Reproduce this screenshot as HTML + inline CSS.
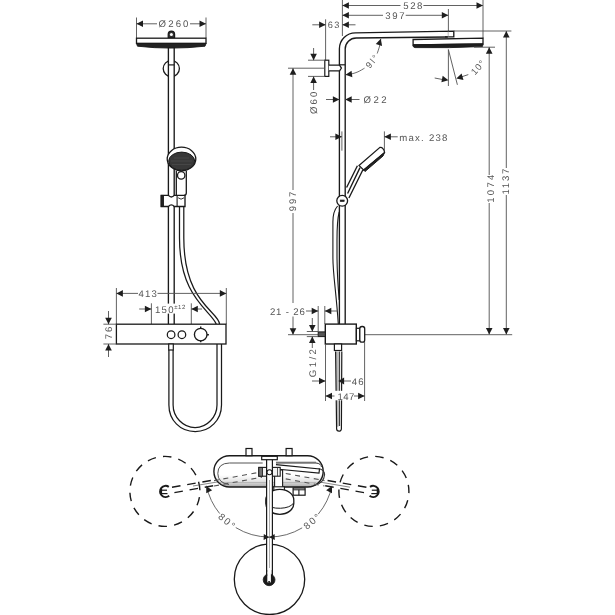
<!DOCTYPE html>
<html><head><meta charset="utf-8"><style>
html,body{margin:0;padding:0;background:#fff;width:615px;height:615px;overflow:hidden}
svg{display:block;will-change:transform}
text{font-family:"Liberation Sans",sans-serif;text-rendering:geometricPrecision}
</style></head><body>
<svg width="615" height="615" viewBox="0 0 615 615">
<rect width="615" height="615" fill="#fff"/>
<line x1="136.5" y1="17.5" x2="136.5" y2="38" stroke="#505050" stroke-width="0.9" />
<line x1="206" y1="17.5" x2="206" y2="38" stroke="#505050" stroke-width="0.9" />
<line x1="136.5" y1="23.8" x2="157" y2="23.8" stroke="#505050" stroke-width="0.9" />
<line x1="190" y1="23.8" x2="206" y2="23.8" stroke="#505050" stroke-width="0.9" />
<polygon points="136.50,23.80 143.00,20.50 143.00,27.10" fill="#1e1e1e"/>
<polygon points="206.00,23.80 199.50,27.10 199.50,20.50" fill="#1e1e1e"/>
<text x="158.6" y="27.2" font-size="9.6" text-anchor="start" letter-spacing="0" fill="#555" >Ø</text>
<text x="168.35" y="27.2" font-size="9.6" text-anchor="start" letter-spacing="2.04" fill="#555" >260</text>
<path d="M168.2,38 L168.2,34.3 A3.2,3.2 0 0 1 174.6,34.3 L174.6,38 Z" stroke="#1a1a1a" stroke-width="1.2" fill="#333" />
<circle cx="171.4" cy="34.6" r="1.5" stroke="#1a1a1a" stroke-width="0" fill="#fff" />
<rect x="136.5" y="38.2" width="69.5" height="5.2" rx="0" stroke="#1a1a1a" stroke-width="1.3" fill="#fff" />
<path d="M136.5,43.4 L206,43.4 L205,46.2 Q171,50 137.5,46.2 Z" stroke="#1a1a1a" stroke-width="0.9" fill="#222" />
<circle cx="171.3" cy="68.6" r="8.1" stroke="#1a1a1a" stroke-width="1.3" fill="none" />
<rect x="168.4" y="50" width="5.8" height="100" fill="#fff"/>
<line x1="168.4" y1="47" x2="168.4" y2="324.2" stroke="#1a1a1a" stroke-width="1.35" />
<line x1="174.2" y1="47" x2="174.2" y2="324.2" stroke="#1a1a1a" stroke-width="1.35" />
<line x1="168.4" y1="64.9" x2="174.2" y2="64.9" stroke="#1a1a1a" stroke-width="1.2" />
<ellipse cx="181.5" cy="159" rx="14.3" ry="11.8" fill="#fff" stroke="#1a1a1a" stroke-width="1.3"/>
<ellipse cx="181.7" cy="161.2" rx="13" ry="9.1" fill="#383838" stroke="#1a1a1a" stroke-width="1"/>
<path d="M171,161 L192,161 M172,164.5 L191,164.5 M174,158 L189,158" stroke="#555" stroke-width="0.5" fill="none" />
<line x1="176.3" y1="171" x2="176.3" y2="195.4" stroke="#1a1a1a" stroke-width="1.3" />
<path d="M186.3,171 L186.3,193 Q186.3,195.4 184,195.4" stroke="#1a1a1a" stroke-width="1.3" fill="none" />
<circle cx="181.2" cy="175.4" r="3.7" stroke="#1a1a1a" stroke-width="1.3" fill="#fff" />
<path d="M161.2,195.4 L168.4,195.4 Q171.3,198.6 174.3,195.4 L185,195.4 L185,206.5 L174.3,206.5 Q171.3,203.3 168.4,206.5 L161.2,206.5 Z" stroke="#1a1a1a" stroke-width="1.35" fill="#fff" />
<rect x="161.2" y="195.4" width="2.3" height="11.1" rx="0" stroke="#1a1a1a" stroke-width="0.9" fill="#222" />
<line x1="177.1" y1="195.4" x2="177.1" y2="206.5" stroke="#1a1a1a" stroke-width="1.1" />
<path d="M178.2,197.8 Q181,200.6 184,197.8" stroke="#1a1a1a" stroke-width="0.9" fill="none" />
<path d="M179.5,206.8 L179.5,238 C179.5,297.7 210.5,309.8 216.3,324.2" stroke="#1a1a1a" stroke-width="1.25" fill="none" />
<path d="M183.8,206.8 L183.8,238 C183.8,303.3 219.1,311.5 219.6,324.2" stroke="#1a1a1a" stroke-width="1.25" fill="none" />
<line x1="116.4" y1="288" x2="116.4" y2="324.2" stroke="#505050" stroke-width="0.9" />
<line x1="226.3" y1="288" x2="226.3" y2="324.2" stroke="#505050" stroke-width="0.9" />
<line x1="116.4" y1="293.4" x2="138" y2="293.4" stroke="#505050" stroke-width="0.9" />
<line x1="157.5" y1="293.4" x2="226.3" y2="293.4" stroke="#505050" stroke-width="0.9" />
<polygon points="116.40,293.40 122.90,290.10 122.90,296.70" fill="#1e1e1e"/>
<polygon points="226.30,293.40 219.80,296.70 219.80,290.10" fill="#1e1e1e"/>
<text x="138.4" y="296.8" font-size="9.6" text-anchor="start" letter-spacing="1.21" fill="#555" >413</text>
<line x1="151.4" y1="303.3" x2="151.4" y2="324.2" stroke="#505050" stroke-width="0.9" />
<line x1="191.3" y1="303.3" x2="191.3" y2="324.2" stroke="#505050" stroke-width="0.9" />
<line x1="139.2" y1="309" x2="151.4" y2="309" stroke="#505050" stroke-width="0.9" />
<polygon points="151.40,309.00 144.90,312.30 144.90,305.70" fill="#1e1e1e"/>
<line x1="191.3" y1="309" x2="202" y2="309" stroke="#505050" stroke-width="0.9" />
<polygon points="191.30,309.00 197.80,305.70 197.80,312.30" fill="#1e1e1e"/>
<rect x="155" y="303.6" width="31" height="10" fill="#fff"/>
<text x="155.05" y="312.5" font-size="9.6" text-anchor="start" letter-spacing="1.24" fill="#555" >150</text>
<text x="174.2" y="309.4" font-size="6" text-anchor="start" letter-spacing="0.6" fill="#555" >±12</text>
<rect x="116.4" y="324.2" width="109.6" height="19.8" rx="0" stroke="#1a1a1a" stroke-width="1.3" fill="#fff" />
<circle cx="171.1" cy="334.7" r="3.8" stroke="#1a1a1a" stroke-width="1.25" fill="none" />
<circle cx="181.9" cy="334.7" r="3.8" stroke="#1a1a1a" stroke-width="1.25" fill="none" />
<circle cx="200.7" cy="334.6" r="6.3" stroke="#1a1a1a" stroke-width="1.35" fill="none" />
<line x1="200.7" y1="326.6" x2="200.7" y2="328.4" stroke="#1a1a1a" stroke-width="1.4" />
<line x1="200.7" y1="340.4" x2="200.7" y2="342.2" stroke="#1a1a1a" stroke-width="1.4" />
<line x1="207" y1="334.7" x2="208.9" y2="334.7" stroke="#1a1a1a" stroke-width="1.4" />
<line x1="103.4" y1="324.2" x2="116.4" y2="324.2" stroke="#505050" stroke-width="0.9" />
<line x1="103.4" y1="344" x2="116.4" y2="344" stroke="#505050" stroke-width="0.9" />
<line x1="108.5" y1="311" x2="108.5" y2="324.2" stroke="#505050" stroke-width="0.9" />
<polygon points="108.50,324.20 105.20,317.70 111.80,317.70" fill="#1e1e1e"/>
<line x1="108.5" y1="344" x2="108.5" y2="357" stroke="#505050" stroke-width="0.9" />
<polygon points="108.50,344.00 111.80,350.50 105.20,350.50" fill="#1e1e1e"/>
<text x="112.2" y="339.2" font-size="9.6" text-anchor="start" letter-spacing="2.0" fill="#555" transform="rotate(-90 112.2 339.2)" >76</text>
<rect x="168.7" y="344" width="4.6" height="6" rx="0" stroke="#1a1a1a" stroke-width="1.2" fill="#fff" />
<path d="M168.9,350 L168.9,405 C168.9,420 180,431.6 195.2,431.6 C210,431.6 221.5,420 221.5,405 L221.5,344" stroke="#1a1a1a" stroke-width="1.25" fill="none" />
<path d="M173.1,350 L173.1,405 C173.1,417 183,427.6 195.1,427.6 C207,427.6 217,417 217,405 L217,344" stroke="#1a1a1a" stroke-width="1.25" fill="none" />
<line x1="342.4" y1="0" x2="342.4" y2="36" stroke="#505050" stroke-width="0.9" />
<line x1="342.4" y1="5.5" x2="400.5" y2="5.5" stroke="#505050" stroke-width="0.9" />
<line x1="423.4" y1="5.5" x2="483" y2="5.5" stroke="#505050" stroke-width="0.9" />
<polygon points="342.40,5.50 348.90,2.20 348.90,8.80" fill="#1e1e1e"/>
<polygon points="483.00,5.50 476.50,8.80 476.50,2.20" fill="#1e1e1e"/>
<text x="403.3" y="9.2" font-size="9.6" text-anchor="start" letter-spacing="1.55" fill="#555" >528</text>
<line x1="342.4" y1="15.3" x2="383" y2="15.3" stroke="#505050" stroke-width="0.9" />
<line x1="405.7" y1="15.3" x2="448.3" y2="15.3" stroke="#505050" stroke-width="0.9" />
<polygon points="342.40,15.30 348.90,12.00 348.90,18.60" fill="#1e1e1e"/>
<polygon points="448.30,15.30 441.80,18.60 441.80,12.00" fill="#1e1e1e"/>
<text x="385.25" y="18.7" font-size="9.6" text-anchor="start" letter-spacing="1.72" fill="#555" >397</text>
<line x1="483" y1="0" x2="483" y2="38.5" stroke="#505050" stroke-width="0.9" />
<line x1="448.4" y1="9" x2="448.4" y2="31" stroke="#505050" stroke-width="0.9" />
<line x1="325.6" y1="19.3" x2="325.6" y2="60" stroke="#505050" stroke-width="0.9" />
<line x1="312.3" y1="24.8" x2="325.6" y2="24.8" stroke="#505050" stroke-width="0.9" />
<polygon points="325.60,24.80 319.10,28.10 319.10,21.50" fill="#1e1e1e"/>
<line x1="342.4" y1="24.8" x2="355.5" y2="24.8" stroke="#505050" stroke-width="0.9" />
<polygon points="342.40,24.80 348.90,21.50 348.90,28.10" fill="#1e1e1e"/>
<text x="327.8" y="28.3" font-size="9.2" text-anchor="start" letter-spacing="1.45" fill="#555" >63</text>
<path d="M339.4,324.2 L339.4,48.8 A16,16 0 0 1 355.4,32.8 L453.8,31.1 L453.8,36.8 L445,36.9" stroke="#1a1a1a" stroke-width="1.35" fill="none" />
<path d="M345.2,324.2 L345.2,49 A11,11 0 0 1 356.2,38 L447.8,37" stroke="#1a1a1a" stroke-width="1.35" fill="none" />
<line x1="448.2" y1="31.2" x2="448.2" y2="36.8" stroke="#888" stroke-width="0.6" />
<path d="M413.1,39.5 L483,38.2 L483,44 L413.1,45 Z" stroke="#1a1a1a" stroke-width="1.3" fill="#fff" />
<path d="M413.1,44.8 L483,43.8 L482.5,46.5 Q450,48.2 415,47.6 Q413.1,47.2 413.1,46 Z" stroke="#1a1a1a" stroke-width="0.9" fill="#1e1e1e" />
<path d="M345.5,74.8 C346.58,74.63 349.92,74.30 352,73.8 C354.08,73.30 355.92,72.73 358,71.8 C360.08,70.87 363.42,68.80 364.5,68.2" stroke="#505050" stroke-width="0.85" fill="none" />
<path d="M377.2,53.5 C377.60,52.25 379.00,48.45 379.6,46 C380.20,43.55 380.60,40.00 380.8,38.8" stroke="#505050" stroke-width="0.85" fill="none" />
<polygon points="345.50,74.80 351.56,70.75 352.35,77.30" fill="#1e1e1e"/>
<polygon points="380.80,38.80 382.09,45.97 375.77,44.08" fill="#1e1e1e"/>
<text x="369.8" y="68.9" font-size="9" text-anchor="start" letter-spacing="1.8" fill="#555" transform="rotate(-50 369.8 68.9)" >9l°</text>
<line x1="448.4" y1="49.5" x2="448.4" y2="86" stroke="#505050" stroke-width="0.9" />
<line x1="448.4" y1="49.6" x2="457.4" y2="84.8" stroke="#505050" stroke-width="0.9" />
<line x1="434.7" y1="78" x2="443" y2="79.6" stroke="#505050" stroke-width="0.9" />
<polygon points="448.40,80.30 441.38,82.26 442.67,75.79" fill="#1e1e1e"/>
<line x1="461" y1="77" x2="468.3" y2="74.6" stroke="#505050" stroke-width="0.9" />
<polygon points="456.30,78.60 461.58,73.57 463.47,79.89" fill="#1e1e1e"/>
<text x="474.9" y="75.6" font-size="9.2" text-anchor="start" letter-spacing="1.0" fill="#555" transform="rotate(-48 474.9 75.6)" >10°</text>
<line x1="453.8" y1="31" x2="511.4" y2="31" stroke="#505050" stroke-width="0.9" />
<line x1="474" y1="47.2" x2="495" y2="47.2" stroke="#505050" stroke-width="0.9" />
<rect x="324.8" y="60.2" width="4" height="16.2" rx="0" stroke="#1a1a1a" stroke-width="1.2" fill="#fff" />
<path d="M328.8,65.2 L339.6,65.2 L341.4,68.1 L339.6,70.9 L328.8,70.9" stroke="#1a1a1a" stroke-width="1.3" fill="#fff" />
<line x1="339.4" y1="64.8" x2="345.2" y2="64.8" stroke="#1a1a1a" stroke-width="1.2" />
<line x1="308" y1="60.2" x2="324.8" y2="60.2" stroke="#505050" stroke-width="0.9" />
<line x1="308" y1="76.4" x2="324.8" y2="76.4" stroke="#505050" stroke-width="0.9" />
<line x1="313.6" y1="48" x2="313.6" y2="60.2" stroke="#505050" stroke-width="0.9" />
<polygon points="313.60,60.20 310.30,53.70 316.90,53.70" fill="#1e1e1e"/>
<line x1="313.6" y1="76.4" x2="313.6" y2="90" stroke="#505050" stroke-width="0.9" />
<polygon points="313.60,76.40 316.90,82.90 310.30,82.90" fill="#1e1e1e"/>
<text x="317.0" y="114.05" font-size="9.6" text-anchor="start" letter-spacing="2.14" fill="#555" transform="rotate(-90 317.0 114.05)" >Ø60</text>
<line x1="288" y1="68.2" x2="324.8" y2="68.2" stroke="#505050" stroke-width="0.9" />
<line x1="293" y1="68.2" x2="293" y2="190" stroke="#505050" stroke-width="0.9" />
<line x1="293" y1="213" x2="293" y2="334.7" stroke="#505050" stroke-width="0.9" />
<polygon points="293.00,68.20 296.30,74.70 289.70,74.70" fill="#1e1e1e"/>
<polygon points="293.00,334.70 289.70,328.20 296.30,328.20" fill="#1e1e1e"/>
<text x="296.5" y="211.15" font-size="9.6" text-anchor="start" letter-spacing="1.7" fill="#555" transform="rotate(-90 296.5 211.15)" >997</text>
<line x1="326" y1="99.5" x2="339.4" y2="99.5" stroke="#505050" stroke-width="0.9" />
<polygon points="339.40,99.50 332.90,102.80 332.90,96.20" fill="#1e1e1e"/>
<line x1="345.2" y1="99.5" x2="359.5" y2="99.5" stroke="#505050" stroke-width="0.9" />
<polygon points="345.20,99.50 351.70,96.20 351.70,102.80" fill="#1e1e1e"/>
<text x="363.5" y="103.0" font-size="9.6" text-anchor="start" letter-spacing="2.46" fill="#555" >Ø22</text>
<line x1="489.2" y1="47.2" x2="489.2" y2="175" stroke="#505050" stroke-width="0.9" />
<line x1="489.2" y1="203" x2="489.2" y2="334.6" stroke="#505050" stroke-width="0.9" />
<polygon points="489.20,47.20 492.50,53.70 485.90,53.70" fill="#1e1e1e"/>
<polygon points="489.20,334.60 485.90,328.10 492.50,328.10" fill="#1e1e1e"/>
<text x="493.8" y="202.7" font-size="9.6" text-anchor="start" letter-spacing="2.21" fill="#555" transform="rotate(-90 493.8 202.7)" >1074</text>
<line x1="506.3" y1="31" x2="506.3" y2="168" stroke="#505050" stroke-width="0.9" />
<line x1="506.3" y1="195" x2="506.3" y2="334.6" stroke="#505050" stroke-width="0.9" />
<polygon points="506.30,31.00 509.60,37.50 503.00,37.50" fill="#1e1e1e"/>
<polygon points="506.30,334.60 503.00,328.10 509.60,328.10" fill="#1e1e1e"/>
<text x="508.8" y="194.55" font-size="9.6" text-anchor="start" letter-spacing="1.76" fill="#555" transform="rotate(-90 508.8 194.55)" >1137</text>
<line x1="288" y1="334.7" x2="318" y2="334.7" stroke="#505050" stroke-width="0.9" />
<line x1="365" y1="334.7" x2="512.2" y2="334.7" stroke="#505050" stroke-width="0.9" />
<line x1="341.9" y1="131.4" x2="341.9" y2="150.7" stroke="#505050" stroke-width="0.9" />
<line x1="330" y1="136.8" x2="341.9" y2="136.8" stroke="#505050" stroke-width="0.9" />
<polygon points="341.90,136.80 335.40,140.10 335.40,133.50" fill="#1e1e1e"/>
<line x1="384.4" y1="131.4" x2="384.4" y2="153" stroke="#505050" stroke-width="0.9" />
<line x1="384.4" y1="136.8" x2="397.7" y2="136.8" stroke="#505050" stroke-width="0.9" />
<polygon points="384.40,136.80 390.90,133.50 390.90,140.10" fill="#1e1e1e"/>
<text x="399.2" y="140.5" font-size="9.6" text-anchor="start" letter-spacing="1.25" fill="#555" >max. 238</text>
<path d="M359,165.5 L380,147.3 Q383.5,147 384.6,152.4 L363.6,170 Z" stroke="#1a1a1a" stroke-width="1.2" fill="#fff" />
<path d="M363.6,170 L384.6,152.4 L383,156 L365,171.5 Z" stroke="#1a1a1a" stroke-width="1" fill="#222" />
<path d="M357.4,165.8 L346.6,187.5 M360,167.6 L347.6,193.5 M362.9,169.8 L348.9,198" stroke="#1a1a1a" stroke-width="1.35" fill="none" />
<circle cx="342.2" cy="200.8" r="5.4" stroke="#1a1a1a" stroke-width="1.3" fill="#fff" />
<rect x="340.2" y="200" width="4" height="1.6" rx="0" stroke="#1a1a1a" stroke-width="0.6" fill="#222" />
<path d="M337.6,206 C334,210 332.9,215 332.9,222 L332.9,258 C333,275 336,290 338.3,324" stroke="#1a1a1a" stroke-width="1.1" fill="none" />
<path d="M339.2,212 C337.6,218 337,225 337,240 L337,258 C337.2,275 338.5,292 339.2,300" stroke="#1a1a1a" stroke-width="1.1" fill="none" />
<rect x="325.3" y="324.1" width="31" height="19.9" rx="0" stroke="#1a1a1a" stroke-width="1.4" fill="#fff" />
<rect x="356.4" y="328.3" width="3.5" height="12.5" rx="0" stroke="#1a1a1a" stroke-width="1.2" fill="#fff" />
<rect x="359.8" y="326.5" width="4.9" height="15.6" rx="2.2" stroke="#1a1a1a" stroke-width="1.3" fill="#fff" />
<rect x="318.2" y="331.9" width="7.1" height="4.7" rx="0" stroke="#1a1a1a" stroke-width="1" fill="#555" />
<line x1="306.8" y1="331.5" x2="318.2" y2="331.5" stroke="#505050" stroke-width="0.9" />
<line x1="306.8" y1="336.6" x2="318.2" y2="336.6" stroke="#505050" stroke-width="0.9" />
<line x1="312.3" y1="318" x2="312.3" y2="331.5" stroke="#505050" stroke-width="0.9" />
<polygon points="312.30,331.50 309.00,325.00 315.60,325.00" fill="#1e1e1e"/>
<line x1="312.3" y1="336.6" x2="312.3" y2="348" stroke="#505050" stroke-width="0.9" />
<polygon points="312.30,336.60 315.60,343.10 309.00,343.10" fill="#1e1e1e"/>
<text x="316.5" y="377.15" font-size="9.6" text-anchor="start" letter-spacing="2.38" fill="#555" transform="rotate(-90 316.5 377.15)" >G1/2</text>
<line x1="318.2" y1="306" x2="318.2" y2="331.9" stroke="#505050" stroke-width="0.9" />
<line x1="324.8" y1="306" x2="324.8" y2="324" stroke="#505050" stroke-width="0.9" />
<line x1="306" y1="311" x2="318.2" y2="311" stroke="#505050" stroke-width="0.9" />
<polygon points="318.20,311.00 311.70,314.30 311.70,307.70" fill="#1e1e1e"/>
<line x1="324.8" y1="311" x2="337" y2="311" stroke="#505050" stroke-width="0.9" />
<polygon points="324.80,311.00 331.30,307.70 331.30,314.30" fill="#1e1e1e"/>
<rect x="290.5" y="303" width="5" height="13.5" fill="#fff"/>
<text x="269.9" y="315.2" font-size="9.6" text-anchor="start" letter-spacing="0.83" fill="#555" >21 - 26</text>
<rect x="334.4" y="344" width="7.2" height="6.5" rx="0" stroke="#1a1a1a" stroke-width="1.2" fill="#fff" />
<path d="M336,351.5 L339.3,351.5 L339.3,426 L337,427 Z" fill="#bbb"/>
<path d="M335.6,351.5 L336.6,428.8 A2.4,2.4 0 0 0 341.4,428.8 L341.8,351.5" stroke="#1a1a1a" stroke-width="1.2" fill="none" />
<line x1="339.6" y1="351.5" x2="339.6" y2="426" stroke="#1a1a1a" stroke-width="0.9" />
<line x1="325.5" y1="344" x2="325.5" y2="401" stroke="#505050" stroke-width="0.9" />
<line x1="364.6" y1="342" x2="364.6" y2="401" stroke="#505050" stroke-width="0.9" />
<line x1="325.5" y1="396" x2="336" y2="396" stroke="#505050" stroke-width="0.9" />
<line x1="354" y1="396" x2="364.6" y2="396" stroke="#505050" stroke-width="0.9" />
<polygon points="325.50,396.00 332.00,392.70 332.00,399.30" fill="#1e1e1e"/>
<polygon points="364.60,396.00 358.10,399.30 358.10,392.70" fill="#1e1e1e"/>
<rect x="334.5" y="390.8" width="9" height="9.5" fill="#fff"/>
<text x="337.4" y="399.5" font-size="9.6" text-anchor="start" letter-spacing="0.53" fill="#555" >147</text>
<line x1="312" y1="381" x2="325.5" y2="381" stroke="#505050" stroke-width="0.9" />
<polygon points="325.50,381.00 319.00,384.30 319.00,377.70" fill="#1e1e1e"/>
<line x1="343" y1="381" x2="351" y2="381" stroke="#505050" stroke-width="0.9" />
<polygon points="338.30,381.00 344.10,377.60 344.10,384.40" fill="#1e1e1e"/>
<text x="351.65" y="384.5" font-size="9.6" text-anchor="start" letter-spacing="1.25" fill="#555" >46</text>
<circle cx="164.9" cy="491.4" r="35" stroke="#1a1a1a" stroke-width="1.4" fill="none" stroke-dasharray="8.5 7.2" stroke-dashoffset="10"/>
<circle cx="373.9" cy="491.4" r="35" stroke="#1a1a1a" stroke-width="1.4" fill="none" stroke-dasharray="8.5 7.2" stroke-dashoffset="6.7"/>
<circle cx="269.5" cy="579.3" r="35.2" stroke="#1a1a1a" stroke-width="1.3" fill="none" />
<line x1="193" y1="486" x2="259" y2="475.1" stroke="#555" stroke-width="0.7" />
<line x1="279" y1="475.1" x2="350" y2="487.2" stroke="#555" stroke-width="0.7" />
<defs><linearGradient id="bsh" x1="0" y1="0" x2="0" y2="1"><stop offset="0" stop-color="#fff"/><stop offset="0.62" stop-color="#fff"/><stop offset="0.8" stop-color="#e6e6e6"/><stop offset="1" stop-color="#aaa"/></linearGradient></defs>
<rect x="213.9" y="455.7" width="109.3" height="31.3" rx="15.6" fill="url(#bsh)" stroke="#1a1a1a" stroke-width="1.4"/>
<path d="M220,482.5 L316,482.5" stroke="#999" stroke-width="0.5" fill="none" />
<path d="M262.7,463 L229.5,463 Q217.8,463.2 217.8,473.5 Q218,483 229,484.5" stroke="#555" stroke-width="1.0" fill="none" />
<path d="M276,463 L316,463 Q321,463.5 321.5,467" stroke="#333" stroke-width="1.0" fill="none" />
<rect x="246" y="448.5" width="6" height="7.2" rx="0" stroke="#1a1a1a" stroke-width="1.2" fill="#fff" />
<rect x="286.1" y="448.5" width="6" height="7.2" rx="0" stroke="#1a1a1a" stroke-width="1.2" fill="#fff" />
<path d="M276,462.2 L316,462.2" stroke="#555" stroke-width="0.8" fill="none" />
<path d="M276,464.6 L319.5,469 L319,473.2 L276,469" stroke="#1a1a1a" stroke-width="1.2" fill="#fff" />
<path d="M318.5,468.5 Q324.6,470 324.6,474.5 Q324,483 314.4,485.5" stroke="#333" stroke-width="1.1" fill="none" />
<path d="M214,480.6 L262,471.8" stroke="#555" stroke-width="1.1" fill="none" stroke-dasharray="5 4.5"/>
<path d="M214,486 L262,477.2" stroke="#555" stroke-width="1.1" fill="none" stroke-dasharray="5 4.5"/>
<path d="M276.4,471.8 L324.5,480.6" stroke="#555" stroke-width="1.1" fill="none" stroke-dasharray="5 4.5"/>
<path d="M276.4,477.2 L324.5,486" stroke="#555" stroke-width="1.1" fill="none" stroke-dasharray="5 4.5"/>
<rect x="274.6" y="470" width="8" height="19" rx="0" stroke="#1a1a1a" stroke-width="1.1" fill="#fff" />
<rect x="258.8" y="467.4" width="21.4" height="8.8" rx="0" stroke="#1a1a1a" stroke-width="1.1" fill="#f4f4f4" />
<rect x="258.8" y="467.4" width="3.6" height="8.8" rx="0" stroke="#1a1a1a" stroke-width="0.9" fill="#777" />
<line x1="277.5" y1="467.4" x2="277.5" y2="476.2" stroke="#333" stroke-width="0.8" />
<path d="M172,487.2 L214,480" stroke="#1a1a1a" stroke-width="1.4" fill="none" stroke-dasharray="8.6 6.8"/>
<path d="M174.4,492.6 L214,485.6" stroke="#1a1a1a" stroke-width="1.4" fill="none" stroke-dasharray="8.6 6.8"/>
<path d="M366.4,487.2 L324.5,480" stroke="#1a1a1a" stroke-width="1.4" fill="none" stroke-dasharray="8.6 6.8"/>
<path d="M364,492.6 L324.5,485.6" stroke="#1a1a1a" stroke-width="1.4" fill="none" stroke-dasharray="8.6 6.8"/>
<path d="M168.8,486.8 A5.6,5.6 0 1 0 169.2,495.8" stroke="#1a1a1a" stroke-width="2.0" fill="none" />
<path d="M161,489 L161,494" stroke="#1a1a1a" stroke-width="2.2" fill="none" />
<line x1="161.5" y1="490.2" x2="167" y2="490.2" stroke="#1a1a1a" stroke-width="1.2" />
<line x1="161.5" y1="493.6" x2="167.5" y2="493.6" stroke="#1a1a1a" stroke-width="1.2" />
<path d="M370,486.8 A5.6,5.6 0 1 1 369.6,495.8" stroke="#1a1a1a" stroke-width="2.0" fill="none" />
<path d="M377.8,489 L377.8,494" stroke="#1a1a1a" stroke-width="2.2" fill="none" />
<line x1="371.8" y1="490.2" x2="377.3" y2="490.2" stroke="#1a1a1a" stroke-width="1.2" />
<line x1="371.3" y1="493.6" x2="377.3" y2="493.6" stroke="#1a1a1a" stroke-width="1.2" />
<rect x="273.8" y="486.8" width="10.6" height="3.8" rx="0" stroke="#1a1a1a" stroke-width="1.1" fill="#fff" />
<path d="M265.8,499.9 A14,10.5 0 0 1 293.8,499.9 L293.8,503.5 A14,10.8 0 0 1 265.8,503.5 Z" fill="#fff" stroke="#1a1a1a" stroke-width="1.3"/>
<path d="M266.5,504 A14,6.5 0 0 0 293.3,503.2" stroke="#1a1a1a" stroke-width="1.0" fill="none" />
<rect x="293.1" y="488" width="12" height="7.2" rx="0" stroke="#1a1a1a" stroke-width="1.2" fill="#fff" />
<line x1="298.9" y1="489.8" x2="298.9" y2="495.2" stroke="#1a1a1a" stroke-width="1.1" />
<line x1="293.1" y1="489.8" x2="305.1" y2="489.8" stroke="#1a1a1a" stroke-width="1.0" />
<rect x="266.6" y="456.3" width="5.8" height="123" rx="0" stroke="#1a1a1a" stroke-width="1.2" fill="#fff" />
<line x1="269.5" y1="480" x2="269.5" y2="568" stroke="#777" stroke-width="0.6" />
<rect x="261.7" y="456.3" width="15.6" height="3.4" rx="0" stroke="#1a1a1a" stroke-width="1.2" fill="#fff" />
<circle cx="269.5" cy="472.3" r="2.5" stroke="#1a1a1a" stroke-width="1.1" fill="#fff" />
<circle cx="269.1" cy="579.8" r="5.9" stroke="#1a1a1a" stroke-width="0.8" fill="#1a1a1a" />
<path d="M267.3,572 L267.3,582 Q269.1,584.2 270.9,582 L270.9,572 Z" fill="#fff"/>
<circle cx="269.1" cy="582" r="1.1" stroke="#1a1a1a" stroke-width="0" fill="#1a1a1a" />
<line x1="266.6" y1="570" x2="266.6" y2="576" stroke="#1a1a1a" stroke-width="1.2" />
<line x1="272.4" y1="570" x2="272.4" y2="576" stroke="#1a1a1a" stroke-width="1.2" />
<path d="M206.48,485.76 A64.0,64.0 0 0 0 219.67,513.54" stroke="#505050" stroke-width="0.85" fill="none" />
<path d="M235.76,527.57 A64.0,64.0 0 0 0 269.20,537.00" stroke="#505050" stroke-width="0.85" fill="none" />
<path d="M331.92,485.76 A64.0,64.0 0 0 1 318.23,514.14" stroke="#505050" stroke-width="0.85" fill="none" />
<path d="M302.16,527.86 A64.0,64.0 0 0 1 269.20,537.00" stroke="#505050" stroke-width="0.85" fill="none" />
<polygon points="206.30,486.00 212.16,490.34 206.26,493.29" fill="#1e1e1e"/>
<polygon points="332.00,486.00 332.04,493.29 326.14,490.34" fill="#1e1e1e"/>
<polygon points="269.20,537.20 263.61,540.03 263.79,534.04" fill="#1e1e1e"/>
<polygon points="269.20,537.20 274.61,534.04 274.79,540.03" fill="#1e1e1e"/>
<text x="227.5" y="521.5" font-size="9.8" text-anchor="middle" letter-spacing="1.8" fill="#555" transform="rotate(40 227.5 521.5)" dy="0.36em">80°</text>
<text x="312.5" y="520.8" font-size="9.8" text-anchor="middle" letter-spacing="1.8" fill="#555" transform="rotate(-40 312.5 520.8)" dy="0.36em">80°</text>
</svg>
</body></html>
